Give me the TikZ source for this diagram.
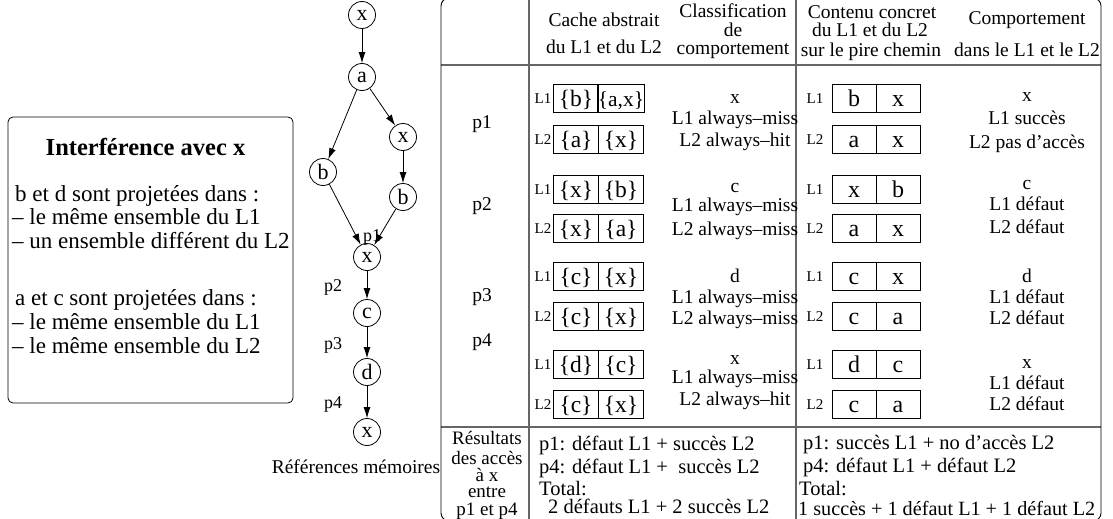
\documentclass[tikz,border=0pt]{standalone}
\usepackage{fontspec}
\setmainfont{Liberation Serif}
\usetikzlibrary{arrows.meta}
\begin{document}
\begin{tikzpicture}[x=1pt,y=-1pt,
  every node/.style={inner sep=0pt},
  T/.style={font=\fontsize{19.5}{19.5}\selectfont, text height=13.6pt, text depth=0pt},
  TS/.style={font=\fontsize{19}{19}\selectfont, text height=13pt, text depth=0pt},
  TW/.style={T, font=\fontsize{20.5}{20.5}\selectfont, anchor=west},
  TH/.style={font=\fontsize{19.5}{19.5}\selectfont, text height=13.6pt, text depth=0pt},
  TB/.style={font=\fontsize{23}{23}\selectfont, text height=16pt, text depth=0pt},
  TP/.style={font=\fontsize{18}{18}\selectfont, text height=12.6pt, text depth=0pt},
  lab/.style={font=\fontsize{15}{15}\selectfont, text height=10.5pt, text depth=0pt},
  cell/.style={draw, line width=0.8pt, minimum width=45pt, minimum height=28pt, font=\fontsize{23.5}{23.5}\selectfont, text height=18pt, text depth=2pt},
  ccell/.style={cell, minimum width=44pt, font=\fontsize{24}{24}\selectfont},
  vtx/.style={draw, circle, line width=0.8pt, minimum size=27pt, font=\fontsize{22}{22}\selectfont},
  arr/.style={-{Latex[length=11pt,width=7pt]}, line width=0.8pt},
  gridline/.style={draw=black!60, line width=1.6pt},
]
\useasboundingbox (0,0) rectangle (1113,519);

% ---------- left box ----------
\node[draw, line width=0.8pt, rounded corners=5pt, minimum width=285pt, minimum height=286pt] (ibox) at (150.5,260) {};
\node[font=\bfseries\fontsize{24.5}{24.5}\selectfont] (ttl) at (145.5,147) {Interférence avec x};
\node[TB, anchor=west] (l1) at (15,193) {b et d sont projetées dans :};
\node[TB, anchor=west] (l2) at (12,216) {– le même ensemble du L1};
\node[TB, anchor=west] (l3) at (12,240) {– un ensemble différent du L2};
\node[TB, anchor=west] (l4) at (15,297) {a et c sont projetées dans :};
\node[TB, anchor=west] (l5) at (12,321) {– le même ensemble du L1};
\node[TB, anchor=west] (l6) at (12,345) {– le même ensemble du L2};

% ---------- graph ----------
\node[vtx] (x0) at (362,15) {x};
\node[vtx] (a) at (362,77) {a};
\node[vtx] (xr) at (403,137) {x};
\node[vtx] (bl) at (323,172) {b};
\node[vtx] (br) at (403,197) {b};
\node[vtx] (xm) at (367,257) {x};
\node[vtx] (c) at (367,313) {c};
\node[vtx] (d) at (367,372) {d};
\node[vtx] (xb) at (367,432) {x};
\draw[arr] (x0) -- (a);
\draw[arr] (a) -- (bl);
\draw[arr] (a) -- (xr);
\draw[arr] (xr) -- (br);
\draw[arr] (bl) -- (xm);
\draw[arr] (br) -- (xm);
\draw[arr] (xm) -- (c);
\draw[arr] (c) -- (d);
\draw[arr] (d) -- (xb);
\node[TP] (gp1) at (372,235) {p1};
\node[TP] (gp2) at (333,285) {p2};
\node[TP] (gp3) at (333,343) {p3};
\node[TP] (gp4) at (333,402) {p4};
\node[TH] (refm) at (356,467) {Références mémoires};

% ---------- table ----------
\draw[gridline] (441,65) -- (1101,65);
\draw[gridline] (441,427) -- (1101,427);
\draw[gridline] (529,-2) -- (529,521);
\draw[gridline] (796,-2) -- (796,521);
\node[draw, line width=0.9pt, rounded corners=8pt, minimum width=660pt, minimum height=523pt] (tab) at (771,259.5) {};

% header
\node[TH] (h1a) at (604,20) {Cache abstrait};
\node[TH] (h1b) at (604,47) {du L1 et du L2};
\node[TH] (h2a) at (733,11) {Classification};
\node[TH] (h2b) at (733,29.5) {de};
\node[TH] (h2c) at (733,48) {comportement};
\node[TH] (h3a) at (872,12) {Contenu concret};
\node[TH] (h3b) at (870,30) {du L1 et du L2};
\node[TH] (h3c) at (871,50) {sur le pire chemin};
\node[TH] (h4a) at (1027,18) {Comportement};
\node[TH] (h4b) at (1027,50) {dans le L1 et le L2};

% row labels
\node[T] (rp1) at (482,122) {p1};
\node[T] (rp2) at (482,204) {p2};
\node[T] (rp3) at (482,295) {p3};
\node[T] (rp4) at (482,340) {p4};

% abstract cache boxes
\node[lab] (aL11) at (543,98) {L1};  \node[cell] (a11l) at (576,98) {\{b\}};  \node[cell, font=\fontsize{21.5}{21.5}\selectfont] (a11r) at (621,98) {\{a,x\}};
\node[lab] (aL21) at (543,139) {L2}; \node[cell] (a21l) at (576,139) {\{a\}}; \node[cell] (a21r) at (621,139) {\{x\}};
\node[lab] (aL12) at (543,189) {L1}; \node[cell] (a12l) at (576,189) {\{x\}}; \node[cell] (a12r) at (621,189) {\{b\}};
\node[lab] (aL22) at (543,228) {L2}; \node[cell] (a22l) at (576,228) {\{x\}}; \node[cell] (a22r) at (621,228) {\{a\}};
\node[lab] (aL13) at (543,276) {L1}; \node[cell] (a13l) at (576,276) {\{c\}}; \node[cell] (a13r) at (621,276) {\{x\}};
\node[lab] (aL23) at (543,316) {L2}; \node[cell] (a23l) at (576,316) {\{c\}}; \node[cell] (a23r) at (621,316) {\{x\}};
\node[lab] (aL14) at (543,364) {L1}; \node[cell] (a14l) at (576,364) {\{d\}}; \node[cell] (a14r) at (621,364) {\{c\}};
\node[lab] (aL24) at (543,404) {L2}; \node[cell] (a24l) at (576,404) {\{c\}}; \node[cell] (a24r) at (621,404) {\{x\}};

% classification
\node[T] (k1a) at (735,97) {x};
\node[T] (k1b) at (735,118) {L1 always–miss};
\node[T] (k1c) at (735,140) {L2 always–hit};
\node[T] (k2a) at (735,186) {c};
\node[T] (k2b) at (735,205) {L1 always–miss};
\node[T] (k2c) at (735,229) {L2 always–miss};
\node[T] (k3a) at (735,276) {d};
\node[T] (k3b) at (735,297) {L1 always–miss};
\node[T] (k3c) at (735,318) {L2 always–miss};
\node[T] (k4a) at (735,358) {x};
\node[T] (k4b) at (735,377) {L1 always–miss};
\node[T] (k4c) at (735,399) {L2 always–hit};

% concrete boxes
\node[lab] (cL11) at (815,98) {L1};  \node[ccell] (c11l) at (854,98) {b};  \node[ccell] (c11r) at (898,98) {x};
\node[lab] (cL21) at (815,139) {L2}; \node[ccell] (c21l) at (854,139) {a}; \node[ccell] (c21r) at (898,139) {x};
\node[lab] (cL12) at (815,189) {L1}; \node[ccell] (c12l) at (854,189) {x}; \node[ccell] (c12r) at (898,189) {b};
\node[lab] (cL22) at (815,228) {L2}; \node[ccell] (c22l) at (854,228) {a}; \node[ccell] (c22r) at (898,228) {x};
\node[lab] (cL13) at (815,276) {L1}; \node[ccell] (c13l) at (854,276) {c}; \node[ccell] (c13r) at (898,276) {x};
\node[lab] (cL23) at (815,316) {L2}; \node[ccell] (c23l) at (854,316) {c}; \node[ccell] (c23r) at (898,316) {a};
\node[lab] (cL14) at (815,364) {L1}; \node[ccell] (c14l) at (854,364) {d}; \node[ccell] (c14r) at (898,364) {c};
\node[lab] (cL24) at (815,404) {L2}; \node[ccell] (c24l) at (854,404) {c}; \node[ccell] (c24r) at (898,404) {a};

% behaviour
\node[T] (b1a) at (1027,95) {x};
\node[T] (b1b) at (1027,118) {L1 succès};
\node[T] (b1c) at (1027,142) {L2 pas d’accès};
\node[T] (b2a) at (1027,183) {c};
\node[T] (b2b) at (1027,204) {L1 défaut};
\node[T] (b2c) at (1027,227) {L2 défaut};
\node[T] (b3a) at (1027,276) {d};
\node[T] (b3b) at (1027,297) {L1 défaut};
\node[T] (b3c) at (1027,318) {L2 défaut};
\node[T] (b4a) at (1027,362) {x};
\node[T] (b4b) at (1027,383) {L1 défaut};
\node[T] (b4c) at (1027,404) {L2 défaut};

% bottom
\node[TS] (r1) at (487,438) {Résultats};
\node[TS] (r2) at (487,458) {des accès};
\node[TS] (r3) at (487,475) {à x};
\node[TS] (r4) at (487,491) {entre};
\node[TS] (r5) at (487,508.5) {p1 et p4};

\node[TW] (m1) at (539,444) {p1: défaut L1 + succès L2};
\node[TW] (m2) at (539,467) {p4: défaut L1 + \ succès L2};
\node[TW] (m3) at (539,489) {Total:};
\node[TW] (m4) at (548,507) {2 défauts L1 + 2 succès L2};

\node[TW] (n1) at (803,443) {p1: succès L1 + no d’accès L2};
\node[TW] (n2) at (803,466) {p4: défaut L1 + défaut L2};
\node[TW] (n3) at (799,489) {Total:};
\node[TW, font=\fontsize{20.2}{20.2}\selectfont] (n4) at (798,509) {1 succès + 1 défaut L1 + 1 défaut L2};
\end{tikzpicture}
\end{document}
